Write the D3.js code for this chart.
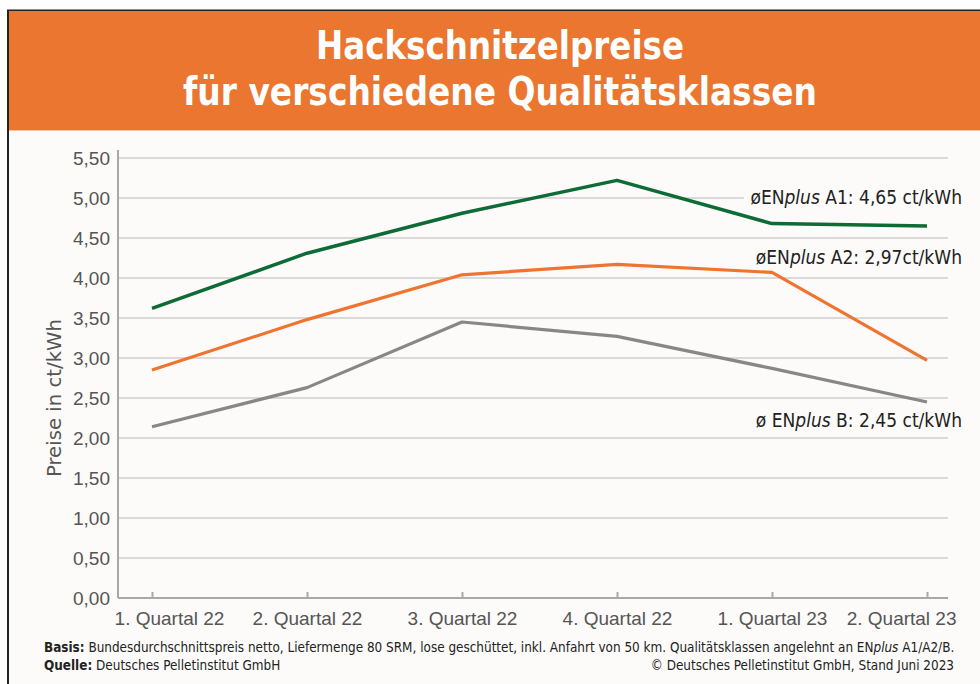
<!DOCTYPE html>
<html>
<head>
<meta charset="utf-8">
<script src="https://cdn.jsdelivr.net/npm/d3@7"></script>
<style>
  body { margin: 0; background: #ffffff; }
  svg { display: block; font-family: "DejaVu Sans", "Open Sans", sans-serif; font-stretch: condensed; }
</style>
</head>
<body>
<div id="wrapper"></div>
<script>
// data
const quarters = ["1. Quartal 22", "2. Quartal 22", "3. Quartal 22", "4. Quartal 22", "1. Quartal 23", "2. Quartal 23"]
const enplusA1 = [3.62, 4.31, 4.81, 5.22, 4.68, 4.65]
const enplusA2 = [2.85, 3.48, 4.04, 4.17, 4.07, 2.97]
const enplusB = [2.14, 2.63, 3.45, 3.27, 2.87, 2.45]
const yTicks = [0, 0.5, 1, 1.5, 2, 2.5, 3, 3.5, 4, 4.5, 5, 5.5]
const labelPrefix = ["øEN", "øEN", "ø EN"]
const labelSuffix = [" A1: 4,65 ct/kWh", " A2: 2,97ct/kWh", " B: 2,45 ct/kWh"]

function drawPlot() {
	let dimensions = {width: 980, height: 684, margin: {top: 158, right: 32, left: 118, bottom: 86}}
	boundHeight = dimensions.height - dimensions.margin.top - dimensions.margin.bottom
	boundWidth = dimensions.width - dimensions.margin.left - dimensions.margin.right

	var wrapper = d3.select("#wrapper")
	  .append("svg")
	  .attr("width", dimensions.width)
	  .attr("height", dimensions.height)

	//Frame + header
	wrapper.append("rect")
	  .attr("x", 8).attr("y", 10)
	  .attr("width", dimensions.width - 8).attr("height", dimensions.height - 10)
	  .attr("fill", "#fcfbf9")
	wrapper.append("path")
	  .attr("d", `M8,${dimensions.height} V10.5 H${dimensions.width}`)
	  .attr("fill", "none").attr("stroke", "#222").attr("stroke-width", 2)
	wrapper.append("rect")
	  .attr("x", 9).attr("y", 11.5)
	  .attr("width", dimensions.width - 9).attr("height", 118.5)
	  .attr("fill", "#ea762f")
	wrapper.append("line")
	  .attr("x1", 9).attr("x2", dimensions.width).attr("y1", 130.5).attr("y2", 130.5)
	  .attr("stroke", "#f3c6a2").attr("stroke-width", 1)
	var titles = ["Hackschnitzelpreise", "für verschiedene Qualitätsklassen"]
	var titleWidths = [368, 634]
	wrapper.selectAll(".title")
	  .data(titles)
	  .enter().append("text")
		.attr("class", "title")
		.attr("x", 500)
		.attr("y", (d, i) => 59 + i * 46)
		.attr("text-anchor", "middle")
		.attr("textLength", (d, i) => titleWidths[i])
		.attr("lengthAdjust", "spacingAndGlyphs")
		.style("font-stretch", "normal")
		.style("font-weight", "bold")
		.style("font-size", "39px")
		.attr("fill", "#ffffff")
		.text(d => d)

	var bounds = wrapper.append("g")

	//Create Scales
	var yScale = d3.scaleLinear()
	  .domain([0, 5.5])
	  .range([dimensions.height - dimensions.margin.bottom, dimensions.margin.top])
	var xScale = d3.scalePoint()
	  .domain(quarters)
	  .range([152, 927])

	//Gridlines
	bounds.selectAll(".grid")
	  .data(yTicks.slice(1))
	  .enter().append("line")
		.attr("class", "grid")
		.attr("x1", dimensions.margin.left)
		.attr("x2", dimensions.width - dimensions.margin.right)
		.attr("y1", d => yScale(d))
		.attr("y2", d => yScale(d))
		.attr("stroke", "#cfcfcf")
		.attr("stroke-width", 1.3)

	//Generate Axes
	var yAxisGenerator = d3.axisLeft()
	  .scale(yScale)
	  .tickValues(yTicks)
	  .tickSize(0)
	  .tickPadding(8)
	  .tickFormat(d => d3.format(".2f")(d).replace(".", ","))
	var xAxisGenerator = d3.axisBottom()
	  .scale(xScale)
	  .tickSize(6)
	  .tickPadding(3)
	var yAxis = bounds.append("g")
	  .call(yAxisGenerator)
	  .style("transform", `translateX(${dimensions.margin.left}px)`)
	var xAxis = bounds.append("g")
	  .call(xAxisGenerator)
	  .style("transform", `translateY(${yScale(0)}px)`)
	xAxis.select(".domain")
	  .attr("d", `M${dimensions.margin.left},0 H${dimensions.width - dimensions.margin.right}`)
	xAxis.selectAll(".tick line").attr("y1", -6).attr("y2", 0)
	yAxis.select(".domain").attr("d", `M0,${yScale(5.5) - 8} V${yScale(0)}`)
	bounds.selectAll(".domain, .tick line")
	  .attr("stroke", "#a8a8a8").attr("stroke-width", 2)
	yAxis.selectAll("text")
	  .style("font-size", "19px").attr("fill", "#555").attr("dy", "0.36em")
	xAxis.selectAll("text")
	  .style("font-size", "19px").attr("fill", "#555").attr("dy", "0.95em")
	// the outer labels are pushed inwards as in the original
	xAxis.selectAll(".tick:first-of-type text").attr("dx", 17)
	xAxis.selectAll(".tick:last-of-type text").attr("text-anchor", "end").attr("dx", 29)

	wrapper.append("text")
	  .attr("transform", `translate(61,${yScale(2.5)}) rotate(-90)`)
	  .attr("text-anchor", "middle")
	  .attr("textLength", 158)
	  .attr("lengthAdjust", "spacingAndGlyphs")
	  .style("font-size", "20px")
	  .attr("fill", "#555")
	  .text("Preise in ct/kWh")

	//Draw Data
	var series = [
	  {values: enplusA1, color: "#0d6b35", width: 3.5},
	  {values: enplusA2, color: "#ef7430", width: 3.2},
	  {values: enplusB, color: "#878787", width: 3.2}
	]
	var lineGen = d3.line()
	  .x((d, i) => xScale(quarters[i]))
	  .y(d => yScale(d))
	bounds.selectAll(".series")
	  .data(series)
	  .enter().append("path")
		.attr("class", "series")
		.attr("d", d => lineGen(d.values))
		.attr("fill", "none")
		.attr("stroke", d => d.color)
		.attr("stroke-width", d => d.width)
		.attr("stroke-linejoin", "round")

	//Series labels
	var labelY = [204, 264, 427]
	var labels = wrapper.selectAll(".lab")
	  .data(labelSuffix)
	  .enter().append("g")
		.attr("class", "lab")
	labels.append("rect")
	  .attr("x", 744).attr("y", (d, i) => labelY[i] - 17)
	  .attr("width", 206).attr("height", 22)
	  .attr("fill", "#fcfbf9")
	var lt = labels.append("text")
	  .attr("x", 962)
	  .attr("y", (d, i) => labelY[i])
	  .attr("text-anchor", "end")
	  .style("font-size", "19px")
	  .attr("fill", "#222")
	lt.append("tspan").text((d, i) => labelPrefix[i])
	lt.append("tspan").style("font-style", "italic").text("plus")
	lt.append("tspan").text(d => d)

	//Footer
	var f1 = wrapper.append("text").attr("x", 44).attr("y", 652)
	  .style("font-size", "13.4px").attr("fill", "#222")
	f1.append("tspan").style("font-weight", "bold").text("Basis:")
	f1.append("tspan").text(" Bundesdurchschnittspreis netto, Liefermenge 80 SRM, lose geschüttet, inkl. Anfahrt von 50 km. Qualitätsklassen angelehnt an EN")
	f1.append("tspan").style("font-style", "italic").text("plus")
	f1.append("tspan").text(" A1/A2/B.")
	var f2 = wrapper.append("text").attr("x", 44).attr("y", 670)
	  .style("font-size", "13.4px").attr("fill", "#222")
	f2.append("tspan").style("font-weight", "bold").text("Quelle:")
	f2.append("tspan").text(" Deutsches Pelletinstitut GmbH")
	wrapper.append("text").attr("x", 954).attr("y", 670)
	  .attr("text-anchor", "end")
	  .style("font-size", "13.4px").attr("fill", "#222")
	  .text("© Deutsches Pelletinstitut GmbH, Stand Juni 2023")
}
drawPlot()
</script>
</body>
</html>
